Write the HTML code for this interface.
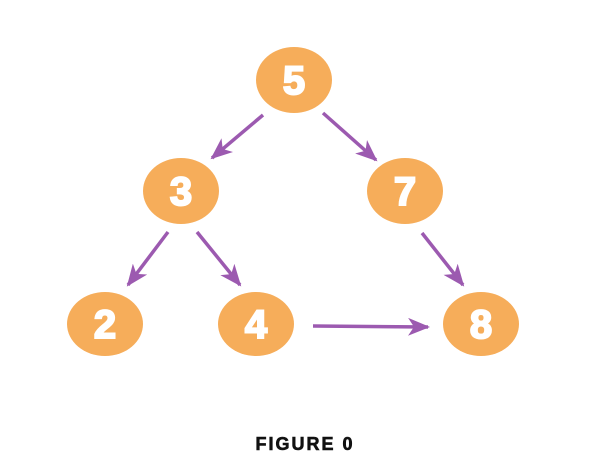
<!DOCTYPE html>
<html><head><meta charset="utf-8"><style>
html,body{margin:0;padding:0;background:#fff;width:610px;height:474px;overflow:hidden}
</style></head><body>
<svg width="610" height="474" viewBox="0 0 610 474" xmlns="http://www.w3.org/2000/svg">
<defs>
<marker id="a" viewBox="0 0 22 18" refX="20" refY="9" markerWidth="22" markerHeight="18" markerUnits="userSpaceOnUse" orient="auto">
<path d="M0,0 L22,9 L0,18 L6,9 Z" fill="#9C5AB0"/>
</marker>
</defs>
<g stroke="#9C5AB0" stroke-width="3.5" fill="none" marker-end="url(#a)">
<line x1="263" y1="115" x2="212" y2="158"/>
<line x1="323" y1="113" x2="376" y2="160"/>
<line x1="168" y1="232" x2="128" y2="285"/>
<line x1="197" y1="232" x2="240" y2="285"/>
<line x1="422" y1="233" x2="463" y2="285"/>
<line x1="313" y1="326" x2="428" y2="327"/>
</g>
<g fill="#F6AD5A">
<ellipse cx="294" cy="80" rx="38" ry="33"/>
<ellipse cx="181" cy="191" rx="38" ry="33"/>
<ellipse cx="405" cy="191" rx="38" ry="33"/>
<ellipse cx="105" cy="324" rx="38" ry="32"/>
<ellipse cx="256" cy="324" rx="38" ry="32"/>
<ellipse cx="481" cy="324" rx="38" ry="32"/>
</g>
<g fill="#fff" stroke="#fff" stroke-width="2" font-family="Liberation Sans, sans-serif" font-weight="bold" font-size="40" text-anchor="middle">
<text x="294" y="94">5</text>
<text x="181" y="205">3</text>
<text x="405" y="205">7</text>
<text x="105" y="338">2</text>
<text x="256" y="338">4</text>
<text x="481" y="338">8</text>
</g>
<text x="305" y="450" fill="#111" stroke="#111" stroke-width="0.6" font-family="Liberation Sans, sans-serif" font-weight="bold" font-size="18" letter-spacing="2" text-anchor="middle">FIGURE 0</text>
</svg>
</body></html>
